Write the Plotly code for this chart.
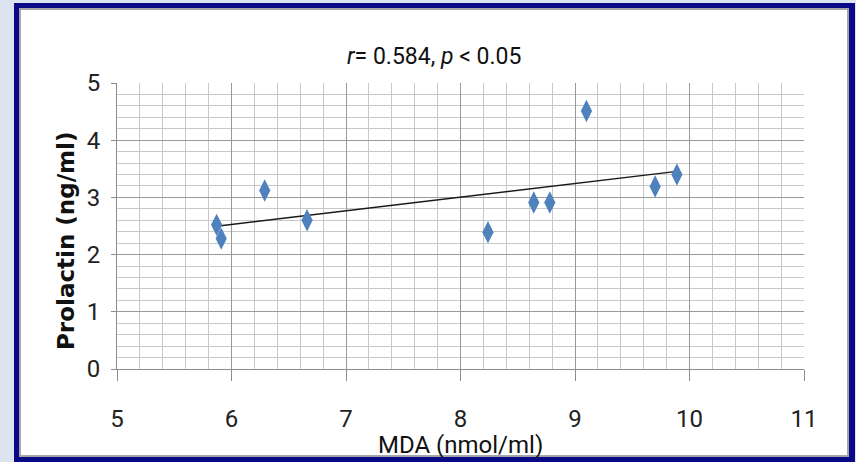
import numpy as np
import plotly.graph_objects as go

# ---- data ----
mda = [5.87, 5.91, 6.29, 6.66, 8.24, 8.64, 8.78, 9.10, 9.70, 9.89]
prolactin = [2.52, 2.28, 3.12, 2.60, 2.39, 2.91, 2.91, 4.51, 3.19, 3.40]
x_ticks = [5, 6, 7, 8, 9, 10, 11]
y_ticks = [0, 1, 2, 3, 4, 5]
title_text = "<i>r</i>= 0.584, <i>p</i> &lt; 0.05"
x_title = "MDA (nmol/ml)"
y_title = "Prolactin (ng/ml)"

# linear trend line (least squares) spanning the data
slope, intercept = np.polyfit(mda, prolactin, 1)
trend_x = [min(mda), max(mda)]
trend_y = [slope * v + intercept for v in trend_x]

W, H = 856, 462
L, R, T, B = 117, 52, 83, 93
PW, PH = W - L - R, H - T - B


def px(x):
    return (x - L) / PW


def py(y):
    return (H - B - y) / PH


NARROW = "Roboto, Liberation Sans, sans-serif"

fig = go.Figure()
fig.add_trace(go.Scatter(
    x=trend_x, y=trend_y, mode="lines",
    line=dict(color="#1a1a1a", width=1.5), hoverinfo="skip", showlegend=False))
fig.add_trace(go.Scatter(
    x=mda, y=prolactin, mode="markers",
    marker=dict(symbol="diamond-tall", size=16, color="#4f81bd",
                line=dict(width=0)),
    showlegend=False))

shapes = [
    dict(type="rect", xref="paper", yref="paper", layer="below",
         x0=px(14), x1=px(855), y0=py(3), y1=py(462),
         fillcolor="#0a0a88", line=dict(width=0)),
    dict(type="rect", xref="paper", yref="paper", layer="below",
         x0=px(19), x1=px(849), y0=py(8), y1=py(457),
         fillcolor="#a6a6a6", line=dict(width=0)),
    dict(type="rect", xref="paper", yref="paper", layer="below",
         x0=px(21), x1=px(847), y0=py(10), y1=py(455),
         fillcolor="white", line=dict(width=0)),
]

annotations = [
    dict(text=title_text, xref="paper", yref="paper", x=px(434), y=py(56),
         xanchor="center", yanchor="middle", showarrow=False,
         font=dict(family=NARROW, size=23, color="#111111")),
    dict(text=x_title, xref="paper", yref="paper", x=px(460), y=py(445),
         xanchor="center", yanchor="middle", showarrow=False,
         font=dict(family=NARROW, size=24, color="#111111")),
    dict(text="<b>" + y_title + "</b>", xref="paper", yref="paper", x=px(66), y=py(241),
         xanchor="center", yanchor="middle", showarrow=False, textangle=-90,
         font=dict(family="DejaVu Sans, Verdana, sans-serif", size=23, color="#111111")),
]

fig.update_layout(
    width=W, height=H,
    margin=dict(l=L, r=R, t=T, b=B, pad=0),
    paper_bgcolor="#dce5ef",
    plot_bgcolor="white",
    shapes=shapes,
    annotations=annotations,
    xaxis=dict(
        range=[5, 11], tickvals=x_ticks, ticktext=[str(v) for v in x_ticks],
        showline=True, linecolor="#8c8c8c", linewidth=1,
        ticks="outside", ticklen=11, tickcolor="#8c8c8c", tickwidth=1,
        showgrid=True, gridcolor="#999999", gridwidth=1,
        minor=dict(dtick=0.2, showgrid=True, gridcolor="#c8c8c8", gridwidth=1),
        zeroline=False, ticklabelstandoff=17,
        tickfont=dict(family=NARROW, size=24, color="#222222"),
    ),
    yaxis=dict(
        range=[0, 5], tickvals=y_ticks, ticktext=[str(v) for v in y_ticks],
        showline=True, linecolor="#8c8c8c", linewidth=1,
        ticks="outside", ticklen=5, tickcolor="#8c8c8c", tickwidth=1,
        showgrid=True, gridcolor="#999999", gridwidth=1,
        minor=dict(dtick=0.2, showgrid=True, gridcolor="#c8c8c8", gridwidth=1),
        zeroline=False, ticklabelstandoff=6,
        tickfont=dict(family=NARROW, size=24, color="#222222"),
    ),
)

fig.write_html("out.html")
